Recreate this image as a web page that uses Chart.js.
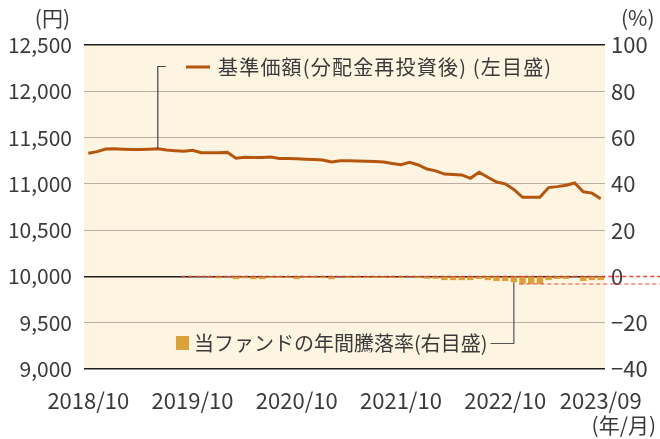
<!DOCTYPE html>
<html>
<head>
<meta charset="utf-8">
<script src="https://cdn.jsdelivr.net/npm/chart.js@4"></script>
<style>
  html, body { margin: 0; padding: 0; background: #fff; }
  #wrap { width: 660px; height: 439px; }
</style>
</head>
<body>
<div id="wrap"><canvas id="fundChart" width="660" height="439"></canvas></div>
<script>
// Months (category axis)
const months = [
    '2018/10', '2018/11', '2018/12',
    '2019/01', '2019/02', '2019/03', '2019/04', '2019/05', '2019/06', '2019/07', '2019/08', '2019/09', '2019/10', '2019/11', '2019/12',
    '2020/01', '2020/02', '2020/03', '2020/04', '2020/05', '2020/06', '2020/07', '2020/08', '2020/09', '2020/10', '2020/11', '2020/12',
    '2021/01', '2021/02', '2021/03', '2021/04', '2021/05', '2021/06', '2021/07', '2021/08', '2021/09', '2021/10', '2021/11', '2021/12',
    '2022/01', '2022/02', '2022/03', '2022/04', '2022/05', '2022/06', '2022/07', '2022/08', '2022/09', '2022/10', '2022/11', '2022/12',
    '2023/01', '2023/02', '2023/03', '2023/04', '2023/05', '2023/06', '2023/07', '2023/08', '2023/09'
];

// 基準価額 (円)
const navValues = [
    11330, 11348, 11377,
    11380, 11375, 11372, 11370, 11373, 11378, 11365, 11358, 11352, 11363, 11337, 11335,
    11337, 11340, 11276, 11287, 11285, 11285, 11290, 11275, 11275, 11270, 11265, 11262,
    11258, 11236, 11250, 11250, 11248, 11245, 11242, 11236, 11220, 11207, 11233, 11204,
    11160, 11140, 11106, 11100, 11096, 11060, 11125, 11071, 11020, 11000, 10940, 10855,
    10855, 10855, 10960, 10970, 10985, 11010, 10915, 10900, 10840
];

// 年間騰落率 (%)
const annualReturns = [
    null, null, null,
    null, null, null, null, null, null, null, null, null, -0.1, -0.2, -0.3,
    -0.8, -0.3, -1.2, -0.8, -1.2, -1.2, -0.7, -0.7, -0.7, -1.2, -0.7, -0.7,
    -0.7, -1.2, -0.2, -0.7, -0.7, -0.7, -0.7, -0.7, -0.7, -0.7, -0.2, -0.7,
    -1.0, -1.0, -1.6, -1.6, -1.6, -1.6, -1.1, -1.6, -2.0, -2.0, -2.5, -3.3,
    -3.3, -3.3, -1.6, -1.1, -1.1, -0.3, -2.0, -1.6, -1.6
];

const xTickLabels = ['2018/10', '2019/10', '2020/10', '2021/10', '2022/10', '2023/09'];
const navTicks = [9000, 9500, 10000, 10500, 11000, 11500, 12000, 12500];
const pctTicks = [-40, -20, 0, 20, 40, 60, 80, 100];

const navLegend = '基準価額(分配金再投資後) (左目盛)';
const barLegend = '当ファンドの年間騰落率(右目盛)';

const FONT = '"Noto Sans CJK JP", "Noto Sans", sans-serif';
const TEXT = '#3a3a3a';
const LINE_COLOR = '#b6560e';
const BAR_COLOR = '#dca23a';

// background, guide lines, legends and unit labels
const decorPlugin = {
    id: 'decor',
    beforeDraw(chart) {
        const { ctx, chartArea: a } = chart;
        ctx.save();
        ctx.fillStyle = '#fdf4e1';
        ctx.fillRect(a.left, a.top, a.right - a.left, a.bottom - a.top);
        ctx.restore();
    },
    afterDatasetsDraw(chart) {
        const { ctx, scales } = chart;
        const x = scales.x, y2 = scales.y2;
        const lineMeta = chart.getDatasetMeta(0);
        const barMeta = chart.getDatasetMeta(1);

        ctx.save();

        // red dashed reference lines (0% and the lowest return)
        const minRet = Math.min(...annualReturns.filter(v => v !== null));
        const minIdx = annualReturns.indexOf(minRet);
        const minBar = barMeta.data[minIdx];
        ctx.setLineDash([4, 3]);
        ctx.lineWidth = 1.5;
        ctx.strokeStyle = 'rgba(228, 60, 50, 0.95)';
        ctx.beginPath();
        ctx.moveTo(x.getPixelForValue(10.7), y2.getPixelForValue(0));
        ctx.lineTo(chart.width, y2.getPixelForValue(0));
        ctx.stroke();
        ctx.strokeStyle = 'rgba(235, 80, 70, 0.7)';
        ctx.beginPath();
        ctx.moveTo(minBar.x - minBar.width / 2, y2.getPixelForValue(minRet));
        ctx.lineTo(chart.width, y2.getPixelForValue(minRet));
        ctx.stroke();
        ctx.setLineDash([]);

        ctx.font = '20px ' + FONT;
        ctx.fillStyle = TEXT;
        ctx.textBaseline = 'middle';

        // legend 1: NAV line with leader
        const pt = lineMeta.data[8];
        ctx.strokeStyle = '#444';
        ctx.lineWidth = 1.2;
        ctx.beginPath();
        ctx.moveTo(pt.x, pt.y);
        ctx.lineTo(pt.x, 66.5);
        ctx.lineTo(pt.x + 8, 66.5);
        ctx.stroke();
        ctx.strokeStyle = LINE_COLOR;
        ctx.lineWidth = 3;
        ctx.beginPath();
        ctx.moveTo(186, 67);
        ctx.lineTo(210, 67);
        ctx.stroke();
        ctx.letterSpacing = '1.2px';
        ctx.fillText(navLegend, 218, 67);
        ctx.letterSpacing = '0px';

        // legend 2: annual return bars with leader
        ctx.fillStyle = BAR_COLOR;
        ctx.fillRect(176, 336, 13, 14);
        ctx.fillStyle = TEXT;
        ctx.fillText(barLegend, 194, 343);
        const tw = ctx.measureText(barLegend).width;
        const bar = barMeta.data[49];
        ctx.strokeStyle = '#555';
        ctx.lineWidth = 1.2;
        ctx.beginPath();
        ctx.moveTo(194 + tw + 3, 343.5);
        ctx.lineTo(bar.x, 343.5);
        ctx.lineTo(bar.x, bar.y);
        ctx.stroke();

        // unit labels
        ctx.font = '21px ' + FONT;
        ctx.textAlign = 'right';
        ctx.fillText('(円)', 70, 18);
        ctx.textAlign = 'left';
        ctx.fillText('(%)', 621, 18);
        ctx.textAlign = 'right';
        ctx.fillText('(年/月)', 656, 425);

        ctx.restore();
    }
};

new Chart(document.getElementById('fundChart'), {
    type: 'bar',
    data: {
        labels: months,
        datasets: [{
            type: 'line',
            label: '基準価額',
            data: navValues,
            yAxisID: 'y',
            borderColor: LINE_COLOR,
            borderWidth: 3,
            pointRadius: 0,
            tension: 0,
            fill: false,
            order: 1
        }, {
            type: 'bar',
            label: '年間騰落率',
            data: annualReturns,
            yAxisID: 'y2',
            backgroundColor: BAR_COLOR,
            borderWidth: 0,
            categoryPercentage: 1,
            barPercentage: 0.75,
            order: 2
        }]
    },
    options: {
        responsive: false,
        animation: false,
        layout: { padding: { top: 45, left: 0, right: 0, bottom: 0 } },
        plugins: {
            legend: { display: false },
            tooltip: { enabled: false }
        },
        scales: {
            x: {
                offset: true,
                border: { display: false },
                grid: { display: false, drawTicks: false },
                afterFit: s => { s.height = 70; },
                ticks: {
                    autoSkip: false,
                    maxRotation: 0,
                    padding: 18,
                    color: TEXT,
                    font: { family: FONT, size: 22 },
                    callback: function(value) {
                        const lab = this.getLabelForValue(value);
                        return xTickLabels.includes(lab) ? lab : '';
                    }
                }
            },
            y: {
                position: 'left',
                min: 9000,
                max: 12500,
                afterFit: s => { s.width = 84; },
                afterBuildTicks: s => { s.ticks = navTicks.map(v => ({ value: v })); },
                border: { display: false },
                grid: {
                    drawTicks: false,
                    color: c => [9000, 10000, 12500].includes(c.tick.value) ? '#1e1e1e' : '#b7b0a6',
                    lineWidth: c => [9000, 10000, 12500].includes(c.tick.value) ? 1.6 : 1
                },
                ticks: {
                    padding: 12,
                    color: TEXT,
                    font: { family: FONT, size: 21 },
                    callback: v => v.toLocaleString('en-US')
                }
            },
            y2: {
                position: 'right',
                min: -40,
                max: 100,
                afterFit: s => { s.width = 44; },
                afterBuildTicks: s => { s.ticks = pctTicks.map(v => ({ value: v })); },
                border: { display: false },
                grid: { display: false, drawTicks: false },
                ticks: {
                    padding: 6,
                    color: TEXT,
                    font: { family: FONT, size: 22 },
                    callback: v => v < 0 ? '\u2212' + Math.abs(v) : String(v)
                }
            }
        }
    },
    plugins: [decorPlugin]
});
</script>
</body>
</html>
